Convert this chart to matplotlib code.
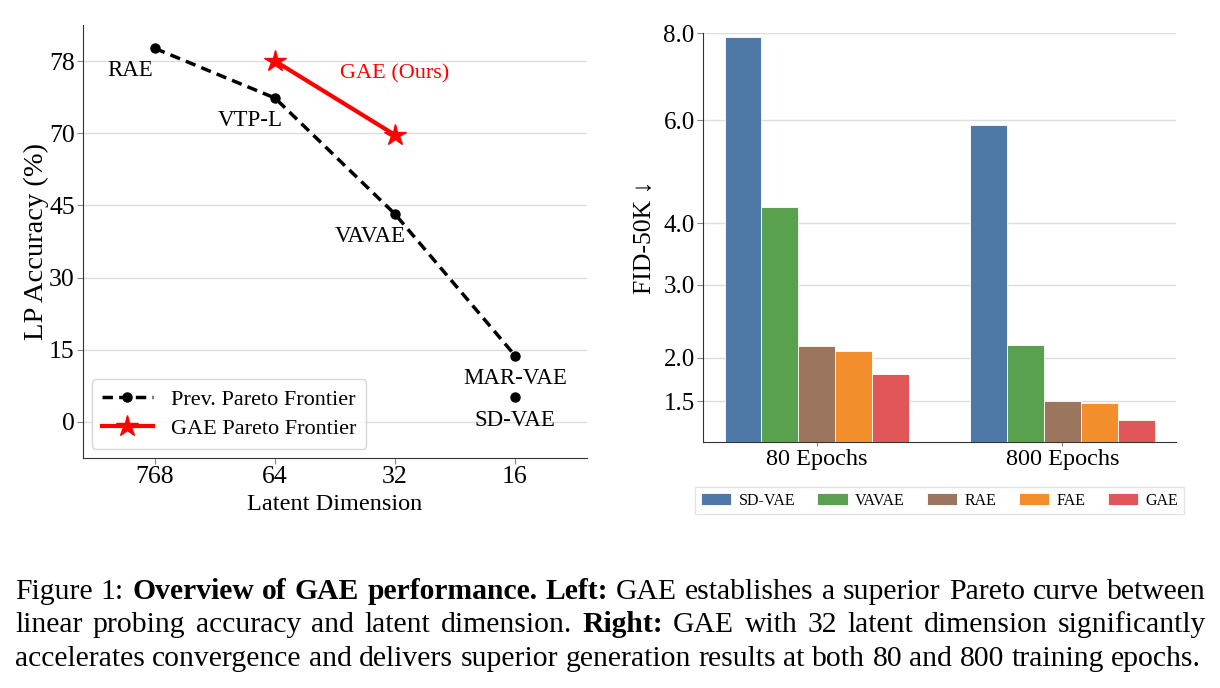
import numpy as np
import matplotlib
matplotlib.use('Agg')
import matplotlib.pyplot as plt
from matplotlib.transforms import IdentityTransform

plt.rcParams['font.family'] = ['Liberation Serif', 'DejaVu Serif']

# ---- left panel: LP accuracy vs latent dimension ----
dims = ['768', '64', '32', '16']
acc_ticks = [0, 15, 30, 45, 70, 78]
prev_names = ['RAE', 'VTP-L', 'VAVAE', 'MAR-VAE']
prev_x = [0, 1, 2, 3]
prev_acc = [79.4, 73.9, 43.2, 13.8]
sd_name = 'SD-VAE'
sd_x = 3
sd_acc = 5.1
gae_x = [1, 2]
gae_acc = [78.0, 69.4]

# ---- right panel: FID-50K ----
epochs = ['80 Epochs', '800 Epochs']
models = ['SD-VAE', 'VAVAE', 'RAE', 'FAE', 'GAE']
fid_sdvae = [7.90, 5.90]
fid_vavae = [4.29, 2.16]
fid_rae = [2.15, 1.50]
fid_fae = [2.08, 1.48]
fid_gae = [1.81, 1.31]
bar_colors = ['#4e79a7', '#59a14f', '#9c755f', '#f28e2b', '#e15759']
fid_ticks = [1.5, 2.0, 3.0, 4.0, 6.0, 8.0]

GRID = '#dddddd'
SPINE = '#333333'

W, H = 1220, 688
fig = plt.figure(figsize=(W/100, H/100), dpi=100)

# piecewise-linear y scale: the ticks are evenly spaced
_v = np.array(acc_ticks, float)
_p = np.arange(len(_v), dtype=float)
v_ext = np.concatenate([[_v[0] - 10*(_v[1]-_v[0])], _v, [_v[-1] + 10*(_v[-1]-_v[-2])]])
p_ext = np.concatenate([[-10.0], _p, [_p[-1] + 10]])

def acc_fwd(v):
    return np.interp(v, v_ext, p_ext)

def acc_inv(p):
    return np.interp(p, p_ext, v_ext)

ax1 = fig.add_axes([83/W, 1-458/H, 504/W, 433/H])
ax1.set_yscale('function', functions=(acc_fwd, acc_inv))
ax1.set_ylim(-7.5, 82)
ax1.set_xlim(-0.6, 3.6)
ax1.set_yticks(acc_ticks)
ax1.set_yticklabels([str(t) for t in acc_ticks])
ax1.set_xticks(range(len(dims)))
ax1.set_xticklabels(dims)
ax1.yaxis.grid(True, color=GRID, lw=1)
ax1.set_axisbelow(True)
for s in ['top', 'right']:
    ax1.spines[s].set_visible(False)
for s in ['left', 'bottom']:
    ax1.spines[s].set_color(SPINE)
ax1.tick_params(axis='both', labelsize=18.5, length=4, color='#888888', pad=2)

ax1.plot(prev_x, prev_acc, color='black', lw=2.5, ls=(0, (3, 1.8)),
         marker='o', ms=6.5, label='Prev. Pareto Frontier', zorder=3)
ax1.plot([sd_x], [sd_acc], color='black', marker='o', ms=6.5, ls='none', zorder=3)
ax1.plot(gae_x, gae_acc, color='red', lw=3, marker='*', ms=16,
         label='GAE Pareto Frontier', zorder=4)

for name, x, y in zip(prev_names, prev_x, prev_acc):
    dx = 0 if name == 'MAR-VAE' else -25
    ax1.annotate(name, (x, y), xytext=(dx, -28), textcoords='offset pixels',
                 ha='center', va='baseline', fontsize=16.5)
ax1.annotate(sd_name, (sd_x, sd_acc), xytext=(0, -29), textcoords='offset pixels',
             ha='center', va='baseline', fontsize=16.5)
ax1.annotate('GAE (Ours)', (gae_x[1], gae_acc[1]), xytext=(0, 56),
             textcoords='offset pixels', ha='center', va='baseline',
             fontsize=16, color='red')

ax1.set_ylabel('LP Accuracy (%)', fontsize=20.5, labelpad=0)
ax1.set_xlabel('Latent Dimension', fontsize=17.5, labelpad=4)
ax1.legend(loc='lower left', fontsize=16, handlelength=2.3, handletextpad=0.8,
           edgecolor='#cccccc', borderpad=0.45, labelspacing=0.4,
           borderaxespad=0.4)

# ---- right panel ----
ax2 = fig.add_axes([703/W, 1-441.7/H, 473/W, 408.4/H])
ax2.set_yscale('function', functions=(lambda v: np.sqrt(np.clip(v, 0, None)), np.square))
series = [fid_sdvae, fid_vavae, fid_rae, fid_fae, fid_gae]
xg = np.arange(len(epochs))
bw = 0.15
for i, (vals, name, c) in enumerate(zip(series, models, bar_colors)):
    ax2.bar(xg + (i - 2)*bw, vals, bw, color=c, label=name,
            edgecolor='white', linewidth=0.6, zorder=3)
ax2.set_ylim(1.1, 8.0)
ax2.set_yticks(fid_ticks)
ax2.set_yticklabels(['%.1f' % t for t in fid_ticks])
ax2.set_xticks(xg)
ax2.set_xticklabels(epochs)
ax2.yaxis.grid(True, color=GRID, lw=1)
ax2.set_axisbelow(True)
for s in ['top', 'right']:
    ax2.spines[s].set_visible(False)
for s in ['left', 'bottom']:
    ax2.spines[s].set_color(SPINE)
ax2.tick_params(axis='y', labelsize=18, length=4, color='#888888', pad=2)
ax2.tick_params(axis='x', labelsize=17.5, length=3, color='#888888', pad=2)
ax2.set_ylabel('FID-50K \u2193', fontsize=18.5, labelpad=5)
ax2.legend(loc='upper center', bbox_to_anchor=(0.5, -0.111), ncol=5, fontsize=11.5,
           handlelength=1.9, handletextpad=0.45, columnspacing=1.4,
           fancybox=False, edgecolor='#dddddd', borderpad=0.35, borderaxespad=0)

# ---- caption (justified like the LaTeX original) ----
CAP = 21.3
renderer = fig.canvas.get_renderer()

def text_w(s, weight='normal'):
    t = fig.text(0, 0, s, fontsize=CAP, fontweight=weight, transform=IdentityTransform())
    w = t.get_window_extent(renderer).width
    t.remove()
    return w

space = text_w('x x') - text_w('xx')

def caption_line(x, y, parts, right=None):
    words = []
    for txt, bold in parts:
        wt = 'bold' if bold else 'normal'
        words += [(w, wt) for w in txt.split()]
    widths = [text_w(w, wt) for w, wt in words]
    gap = space
    if right is not None:
        gap = (right - x - sum(widths)) / (len(words) - 1)
    for (w, wt), ww in zip(words, widths):
        fig.text(x, H - y, w, fontsize=CAP, fontweight=wt, va='baseline',
                 transform=IdentityTransform())
        x += ww + gap

caption_line(15, 599, [('Figure 1:', False), ('Overview of GAE performance. Left:', True),
                       ('GAE establishes a superior Pareto curve between', False)], right=1206)
caption_line(15, 632.5, [('linear probing accuracy and latent dimension.', False), ('Right:', True),
                         ('GAE with 32 latent dimension significantly', False)], right=1206)
caption_line(15, 666, [('accelerates convergence and delivers superior generation results '
                        'at both 80 and 800 training epochs.', False)])

fig.savefig('out.png', dpi=100)
